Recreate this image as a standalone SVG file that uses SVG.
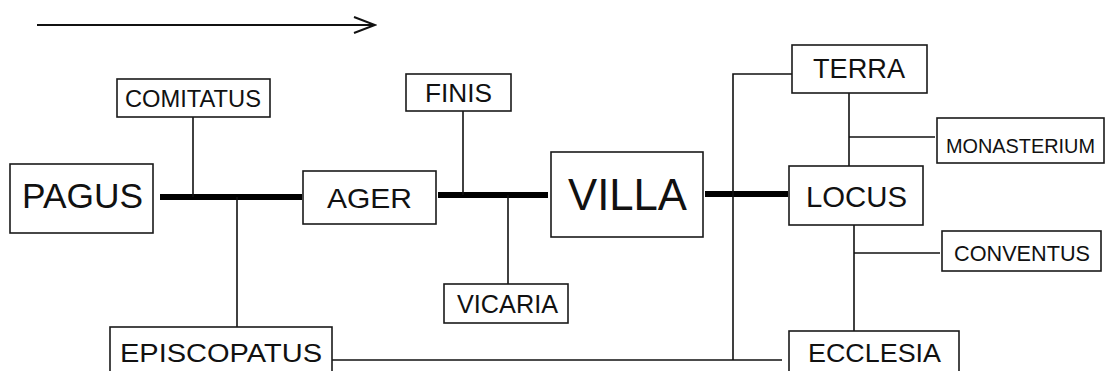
<svg xmlns="http://www.w3.org/2000/svg" width="1108" height="371" viewBox="0 0 1108 371">
  <style>
    .box { fill: #fff; stroke: #1a1a1a; stroke-width: 1.6; }
    .lbl { font-family: "Liberation Sans", Arial, sans-serif; fill: #111; }
    .thin { stroke: #111; stroke-width: 1.6; fill: none; }
    .thick { stroke: #000; stroke-width: 6; fill: none; }
  </style>
  <defs>
    <marker id="openArrow" viewBox="0 0 24 18" refX="22" refY="9" markerWidth="24" markerHeight="18" markerUnits="userSpaceOnUse" orient="auto">
      <path d="M1,1 L22,9 L1,17" fill="none" stroke="#111" stroke-width="2"/>
    </marker>
  </defs>

  <!-- direction arrow -->
  <line x1="37" y1="25" x2="375" y2="25" stroke="#111" stroke-width="2" marker-end="url(#openArrow)"/>

  <g id="connectors">
    <!-- main spine -->
    <line class="thick" x1="160" y1="197" x2="302" y2="197"/>
    <line class="thick" x1="438" y1="195" x2="548" y2="195"/>
    <line class="thick" x1="705" y1="194" x2="788" y2="194"/>
    <!-- branches -->
    <line class="thin" x1="193" y1="117" x2="193" y2="197"/>
    <line class="thin" x1="237" y1="197" x2="237" y2="327"/>
    <line class="thin" x1="463" y1="111" x2="463" y2="195"/>
    <line class="thin" x1="508" y1="195" x2="508" y2="284"/>
    <polyline class="thin" points="332,360 782,360"/>
    <polyline class="thin" points="733,360 733,74 792,74"/>
    <line class="thin" x1="849" y1="93" x2="849" y2="166"/>
    <line class="thin" x1="849" y1="137" x2="935" y2="137"/>
    <line class="thin" x1="854" y1="225" x2="854" y2="331"/>
    <line class="thin" x1="854" y1="253" x2="940" y2="253"/>
  </g>

  <g id="pagus">
    <rect class="box" x="10" y="164" width="143" height="69"/>
    <text class="lbl" x="22" y="208" font-size="35" textLength="121" lengthAdjust="spacingAndGlyphs">PAGUS</text>
  </g>
  <g id="comitatus">
    <rect class="box" x="117" y="79" width="153" height="38"/>
    <text class="lbl" x="125" y="107" font-size="23" textLength="136" lengthAdjust="spacingAndGlyphs">COMITATUS</text>
  </g>
  <g id="episcopatus">
    <rect class="box" x="110" y="327" width="222" height="46"/>
    <text class="lbl" x="120" y="362" font-size="26" textLength="202" lengthAdjust="spacingAndGlyphs">EPISCOPATUS</text>
  </g>
  <g id="ager">
    <rect class="box" x="303" y="171" width="133" height="53"/>
    <text class="lbl" x="327" y="208" font-size="28" textLength="85" lengthAdjust="spacingAndGlyphs">AGER</text>
  </g>
  <g id="finis">
    <rect class="box" x="406" y="74" width="105" height="37"/>
    <text class="lbl" x="425" y="102" font-size="25" textLength="67" lengthAdjust="spacingAndGlyphs">FINIS</text>
  </g>
  <g id="vicaria">
    <rect class="box" x="444" y="284" width="124" height="39"/>
    <text class="lbl" x="457" y="313" font-size="25" textLength="101" lengthAdjust="spacingAndGlyphs">VICARIA</text>
  </g>
  <g id="villa">
    <rect class="box" x="551" y="152" width="152" height="85"/>
    <text class="lbl" x="568" y="210" font-size="44" textLength="119" lengthAdjust="spacingAndGlyphs">VILLA</text>
  </g>
  <g id="terra">
    <rect class="box" x="792" y="45" width="135" height="48"/>
    <text class="lbl" x="813" y="78" font-size="27.5" textLength="92" lengthAdjust="spacingAndGlyphs">TERRA</text>
  </g>
  <g id="monasterium">
    <rect class="box" x="937" y="118" width="167" height="45"/>
    <text class="lbl" x="946" y="153" font-size="20" textLength="149" lengthAdjust="spacingAndGlyphs">MONASTERIUM</text>
  </g>
  <g id="locus">
    <rect class="box" x="789" y="166" width="134" height="59"/>
    <text class="lbl" x="806" y="207" font-size="29.5" textLength="101" lengthAdjust="spacingAndGlyphs">LOCUS</text>
  </g>
  <g id="conventus">
    <rect class="box" x="942" y="231" width="159" height="40"/>
    <text class="lbl" x="954" y="261" font-size="22" textLength="136" lengthAdjust="spacingAndGlyphs">CONVENTUS</text>
  </g>
  <g id="ecclesia">
    <rect class="box" x="789" y="331" width="170" height="42"/>
    <text class="lbl" x="808" y="362" font-size="26" textLength="133" lengthAdjust="spacingAndGlyphs">ECCLESIA</text>
  </g>
</svg>
